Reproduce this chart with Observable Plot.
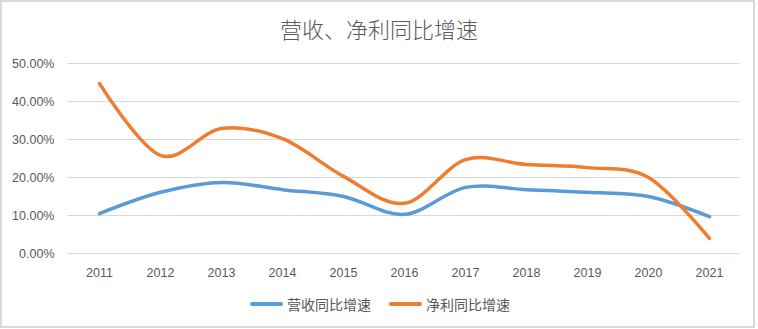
<!DOCTYPE html>
<html><head><meta charset="utf-8">
<script src="https://cdn.jsdelivr.net/npm/d3@7"></script>
<script src="https://cdn.jsdelivr.net/npm/@observablehq/plot@0.6"></script>
<style>
body{margin:0;background:#fff;}
#wrap{position:relative;width:758px;height:329px;overflow:hidden;font-family:"Noto Sans CJK SC","Noto Sans",sans-serif;color:#595959;background:#fff}
#frame{position:absolute;left:0;top:0;width:755px;height:328px;border:2px solid #d9d9d9;box-sizing:border-box;pointer-events:none}
#title{position:absolute;top:13px;left:0;width:758px;text-align:center;font-size:22px;font-weight:300;line-height:30px}
#chart{position:absolute;left:0;top:0}
#legend{position:absolute;top:294px;left:0;width:760px;display:flex;justify-content:center;align-items:center;font-size:14px;line-height:20px}
.item{display:flex;align-items:center;margin:0 9px}
.sw{width:33px;height:4px;border-radius:2px;margin-right:4px}
</style></head>
<body>
<div id="wrap">
  <div id="chart"></div>
  <div id="title">营收、净利同比增速</div>
  <div id="legend"></div>
  <div id="frame"></div>
</div>
<script>
const years = ["2011","2012","2013","2014","2015","2016","2017","2018","2019","2020","2021"];
const revenueGrowth = [10.5, 16.1, 18.7, 16.8, 15.0, 10.3, 17.4, 16.8, 16.1, 15.0, 9.7];
const profitGrowth = [44.7, 25.8, 32.9, 30.2, 20.3, 13.2, 24.7, 23.4, 22.6, 20.0, 4.0];
const seriesNames = ["营收同比增速", "净利同比增速"];
const seriesColors = ["#5B9BD5", "#ED7D31"];
const yTicks = [0, 10, 20, 30, 40, 50];

const rows = [];
years.forEach((y, i) => {
  rows.push({year: y, value: revenueGrowth[i], series: seriesNames[0]});
  rows.push({year: y, value: profitGrowth[i], series: seriesNames[1]});
});

const chart = Plot.plot({
  width: 758,
  height: 290,
  marginTop: 63,
  marginBottom: 37,
  marginLeft: 67.5,
  marginRight: 18.5,
  style: {fontFamily: "'Liberation Sans', Arial, sans-serif", fontSize: "12.5px", color: "#595959", background: "transparent"},
  x: {type: "point", domain: years, padding: 0.5},
  y: {domain: [0, 50]},
  color: {domain: seriesNames, range: seriesColors},
  marks: [
    Plot.gridY(yTicks, {stroke: "#d9d9d9", strokeOpacity: 1, strokeWidth: 1}),
    Plot.axisY(yTicks, {tickSize: 0, tickPadding: 13.5, tickFormat: d => d.toFixed(2) + "%", label: null, fill: "#595959"}),
    Plot.axisX({tickSize: 0, tickPadding: 15, label: null, fill: "#595959"}),
    Plot.line(rows, {x: "year", y: "value", z: "series", stroke: "series", strokeWidth: 3.5, curve: "cardinal", tension: 0, strokeLinecap: "round", strokeLinejoin: "round"})
  ]
});
document.getElementById("chart").appendChild(chart);

const legend = document.getElementById("legend");
seriesNames.forEach((n, i) => {
  const it = document.createElement("div");
  it.className = "item";
  const sw = document.createElement("div");
  sw.className = "sw";
  sw.style.background = seriesColors[i];
  const t = document.createElement("span");
  t.textContent = n;
  it.appendChild(sw); it.appendChild(t);
  legend.appendChild(it);
});
</script>
</body></html>
